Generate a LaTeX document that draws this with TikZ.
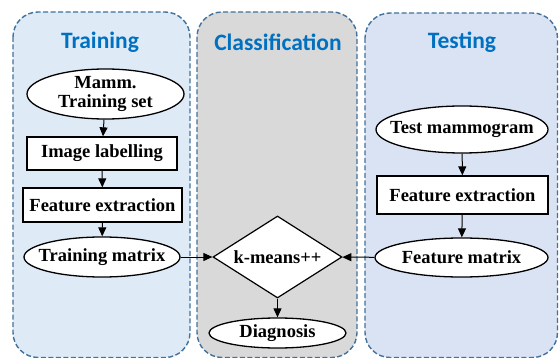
\documentclass[tikz,border=0pt]{standalone}
\usepackage{fontspec}
\setmainfont{Liberation Serif}
\newfontfamily\titlefont{Carlito}
\usetikzlibrary{shapes.geometric,arrows.meta}
\definecolor{panelline}{RGB}{65,113,156}
\definecolor{trainfill}{RGB}{222,235,247}
\definecolor{testfill}{RGB}{218,227,243}
\definecolor{classfill}{RGB}{217,217,217}
\definecolor{titleblue}{RGB}{0,112,192}
\tikzset{
  panel/.style={draw=panelline, line width=1.4pt, dash pattern=on 5pt off 2.5pt, rounded corners=25pt},
  paneltitle/.style={font=\titlefont\bfseries\fontsize{23.5}{26}\selectfont, text=titleblue, inner sep=0pt},
  nodetext/.style={font=\bfseries\fontsize{18.5}{19}\selectfont, align=center, inner sep=0pt},
  oval/.style={ellipse, draw=black, fill=white, line width=1.3pt, inner sep=0pt},
  stepbox/.style={nodetext, rectangle, draw=black, fill=white, line width=1.3pt},
  decision/.style={nodetext, diamond, aspect=1.573, draw=black, fill=white, line width=1.2pt, minimum width=129pt, minimum height=82pt},
  flow/.style={draw=black, line width=1pt, -{Triangle[length=9pt,width=8pt]}}
}
\begin{document}
\begin{tikzpicture}[x=1pt,y=-1pt]
\useasboundingbox (0,0) rectangle (559,358);

% background panels
\draw[panel, fill=trainfill] (13,12) rectangle (190,357.5);
\draw[panel, fill=classfill] (197,12) rectangle (357,357.5);
\draw[panel, fill=testfill] (365,13) rectangle (557.5,357.5);

% panel titles
\node[paneltitle] (ttrain) at (100,42) {Training};
\node[paneltitle] (tclass) at (278,42) {Classification};
\node[paneltitle] (ttest) at (462,42) {Testing};

% training branch
\node[oval, minimum width=157pt, minimum height=50pt] (mamm) at (105.5,94) {};
\node[nodetext] (mammtext) at (mamm.center) {Mamm.\\Training set};
\node[stepbox, minimum width=150pt, minimum height=33pt] (label) at (102,153.5) {Image labelling};
\node[stepbox, minimum width=159pt, minimum height=34pt] (featL) at (102.5,205) {Feature extraction};
\node[oval, minimum width=156pt, minimum height=40pt] (trainmat) at (102,257) {};
\node[nodetext] (trainmattext) at (trainmat.center) {Training matrix};

% classification
\node[decision] (kmeans) at (277.5,257) {k-means++};
\node[oval, minimum width=137pt, minimum height=30pt] (diag) at (277.5,333) {};
\node[nodetext] (diagtext) at (diag.center) {Diagnosis};

% testing branch
\node[oval, minimum width=172pt, minimum height=47pt] (testm) at (462,129.5) {};
\node[nodetext] (testmtext) at (testm.center) {Test mammogram};
\node[stepbox, minimum width=171pt, minimum height=38pt] (featR) at (462.5,195) {Feature extraction};
\node[oval, minimum width=173pt, minimum height=39pt] (featmat) at (461.5,257.5) {};
\node[nodetext] (featmattext) at (featmat.center) {Feature matrix};

% connectors
\draw[flow] (mamm) -- (label);
\draw[flow] (label) -- (featL);
\draw[flow] (featL) -- (trainmat);
\draw[flow] (trainmat) -- (kmeans);
\draw[flow] (featmat) -- (kmeans);
\draw[flow] (kmeans) -- (diag);
\draw[flow] (testm) -- (featR);
\draw[flow] (featR) -- (featmat);
\end{tikzpicture}
\end{document}
